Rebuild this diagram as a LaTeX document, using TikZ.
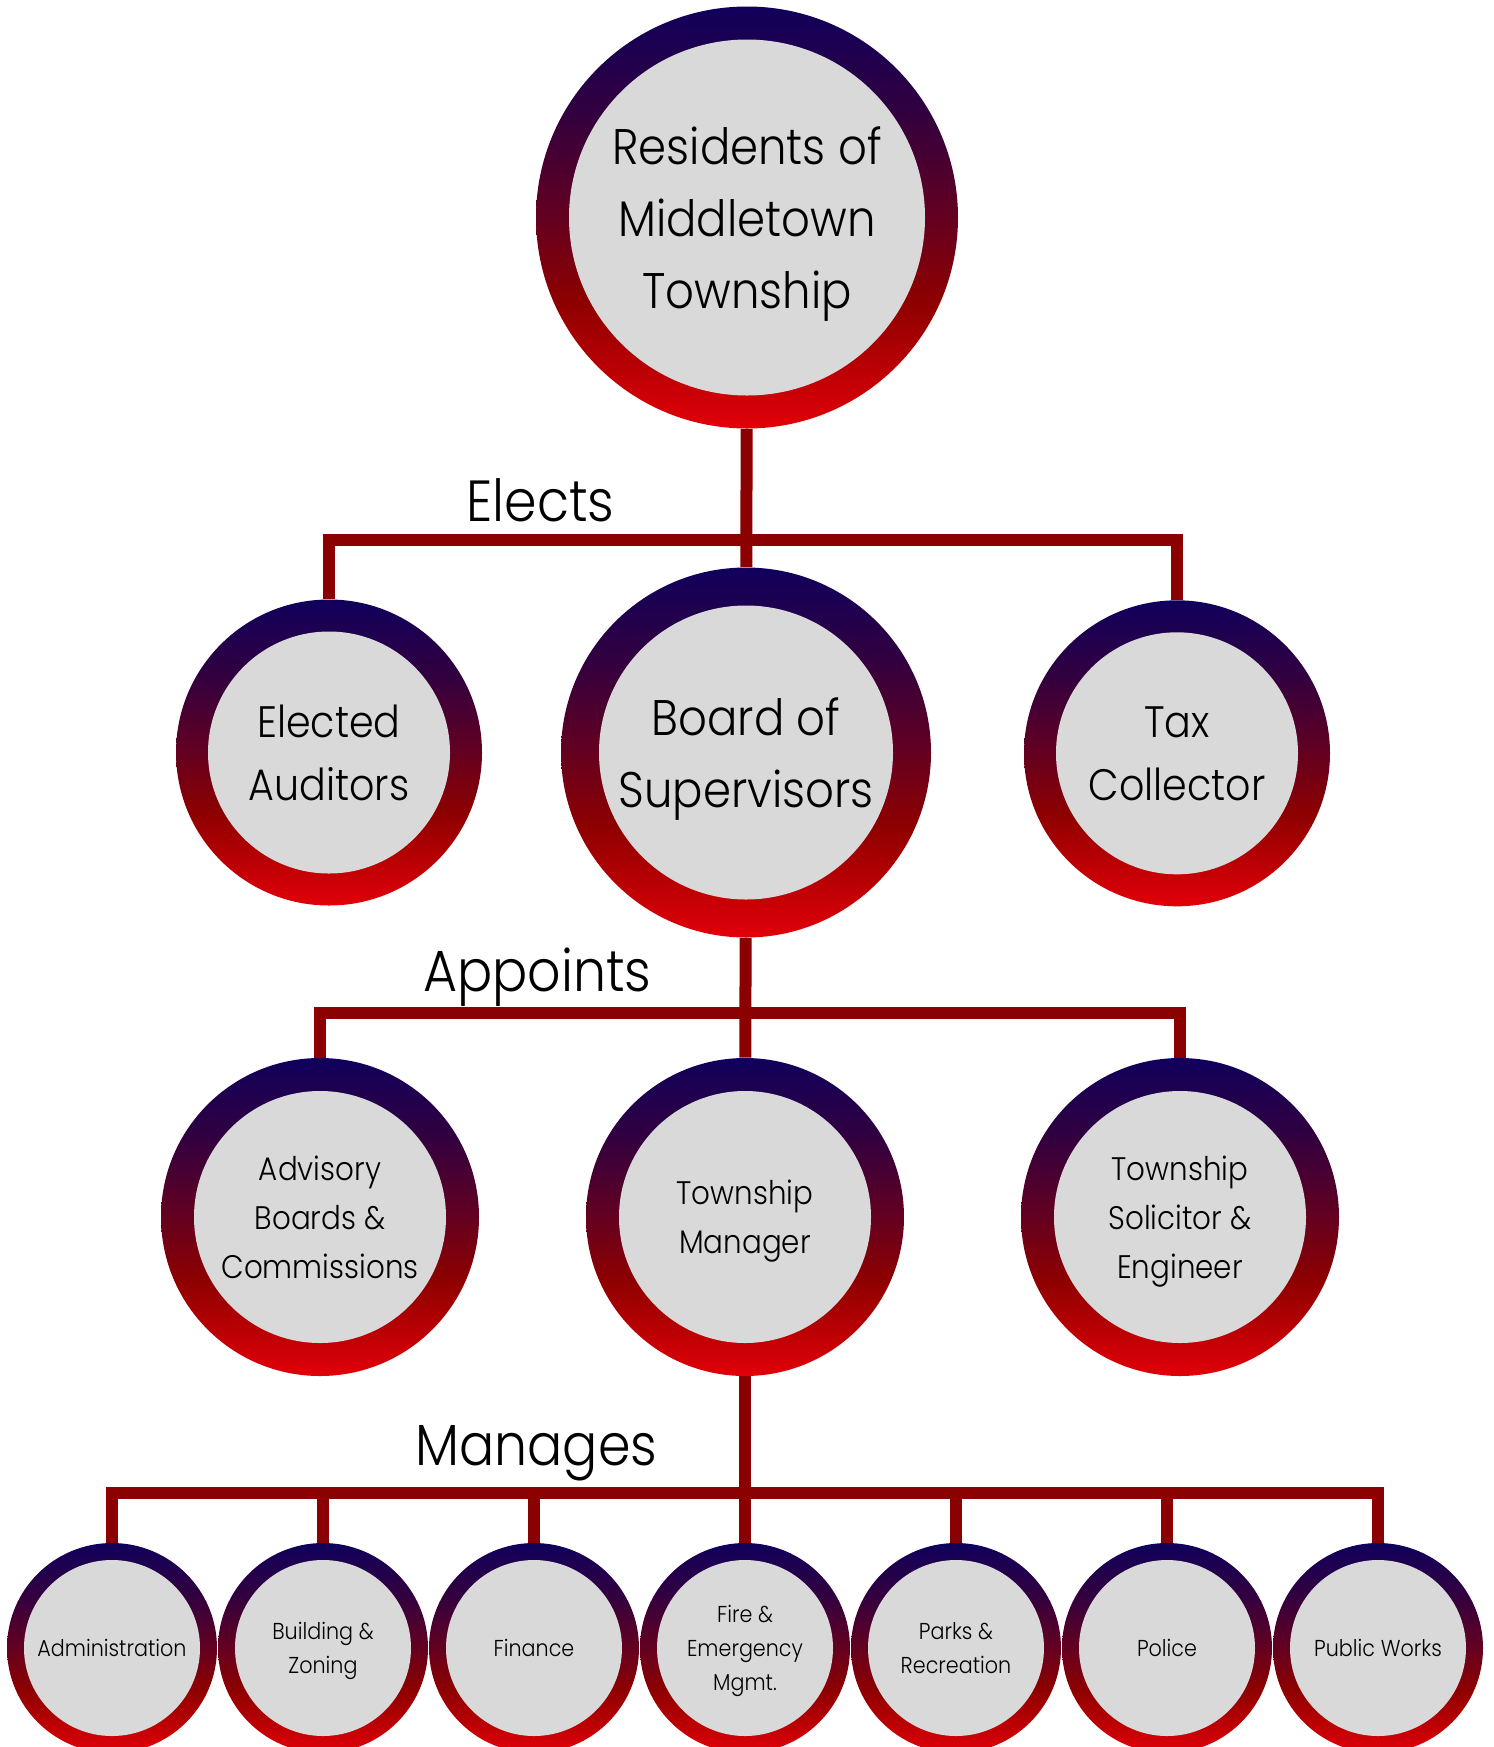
\documentclass[tikz,border=0pt]{standalone}
\usepackage{fontspec}
\setmainfont{Poppins Light}[FakeStretch=0.9]
\definecolor{navyc}{HTML}{10005C}
\definecolor{purpc}{HTML}{32003F}
\definecolor{wine}{HTML}{640020}
\definecolor{dredc}{HTML}{8E0000}
\definecolor{brightred}{HTML}{E20008}
\definecolor{innergray}{HTML}{D9D9D9}
\definecolor{linkred}{HTML}{8B0000}
\pgfdeclareverticalshading{ringshade}{100bp}{color(0bp)=(brightred); color(25bp)=(brightred); color(40bp)=(dredc); color(50bp)=(wine); color(62.5bp)=(purpc); color(75bp)=(navyc); color(100bp)=(navyc)}
\tikzset{
  orgcircle/.style n args={3}{circle, inner sep=0pt, minimum size=#1, shade, shading=ringshade,
    path picture={\fill[innergray] (path picture bounding box.center) circle[radius=#2];},
    align=center, font=#3, text=black, text depth=0pt},
  topc/.style={orgcircle={211pt}{89pt}{\fontsize{25}{36}\selectfont}},
  boardc/.style={orgcircle={185pt}{73.5pt}{\fontsize{25}{36}\selectfont}},
  sidec/.style={orgcircle={153pt}{60.5pt}{\fontsize{22}{31.5}\selectfont}},
  midc/.style={orgcircle={159pt}{63pt}{\fontsize{16.3}{24.5}\selectfont}},
  lowc/.style={orgcircle={105pt}{44pt}{\fontsize{11.5}{17}\selectfont}},
  link/.style={draw=linkred, line width=6pt},
  lbl/.style={font=\fontsize{29}{36}\selectfont, inner sep=0pt, anchor=base west},
}
\begin{document}
\begin{tikzpicture}[x=0.5pt, y=-0.5pt]
\useasboundingbox (0,0) rectangle (1494,1747);
% nodes
\node[topc] (res) at (747,217.5) {Residents of\\Middletown\\Township};
\node[sidec] (aud) at (329,752.5) {Elected\\Auditors};
\node[boardc] (board) at (746,752.5) {Board of\\Supervisors};
\node[sidec] (tax) at (1177,753.3) {Tax\\Collector};
\node[midc] (adv) at (320,1217) {Advisory\\Boards \&\\Commissions};
\node[midc] (tm) at (745,1217) {Township\\Manager};
\node[midc] (sol) at (1180,1217) {Township\\Solicitor \&\\Engineer};
\node[lowc] (admin) at (112,1648) {Administration};
\node[lowc] (build) at (323,1648) {Building \&\\Zoning};
\node[lowc] (fin) at (534,1648) {Finance};
\node[lowc] (fire) at (745,1648) {Fire \&\\Emergency\\Mgmt.};
\node[lowc] (parks) at (956,1648) {Parks \&\\Recreation};
\node[lowc] (police) at (1167,1648) {Police};
\node[lowc] (pw) at (1378,1648) {Public Works};
% labels
\node[lbl] (elects) at (466,521.7) {Elects};
\node[lbl] (appoints) at (423,991.7) {Appoints};
\node[lbl] (manages) at (415,1465) {Manages};
% bars
\coordinate (elbar) at (747,540);
\coordinate (apbar) at (745,1013.3);
\coordinate (mgbar) at (745,1493.3);
% connectors
\draw[link] (res) -- (board);
\draw[link] (aud) |- (elbar) -| (tax);
\draw[link] (board) -- (tm);
\draw[link] (adv) |- (apbar) -| (sol);
\draw[link] (tm) -- (fire);
\draw[link] (admin) |- (mgbar) -| (pw);
\draw[link] (build.north) -- (build.north |- mgbar);
\draw[link] (fin.north) -- (fin.north |- mgbar);
\draw[link] (parks.north) -- (parks.north |- mgbar);
\draw[link] (police.north) -- (police.north |- mgbar);
\end{tikzpicture}
\end{document}
